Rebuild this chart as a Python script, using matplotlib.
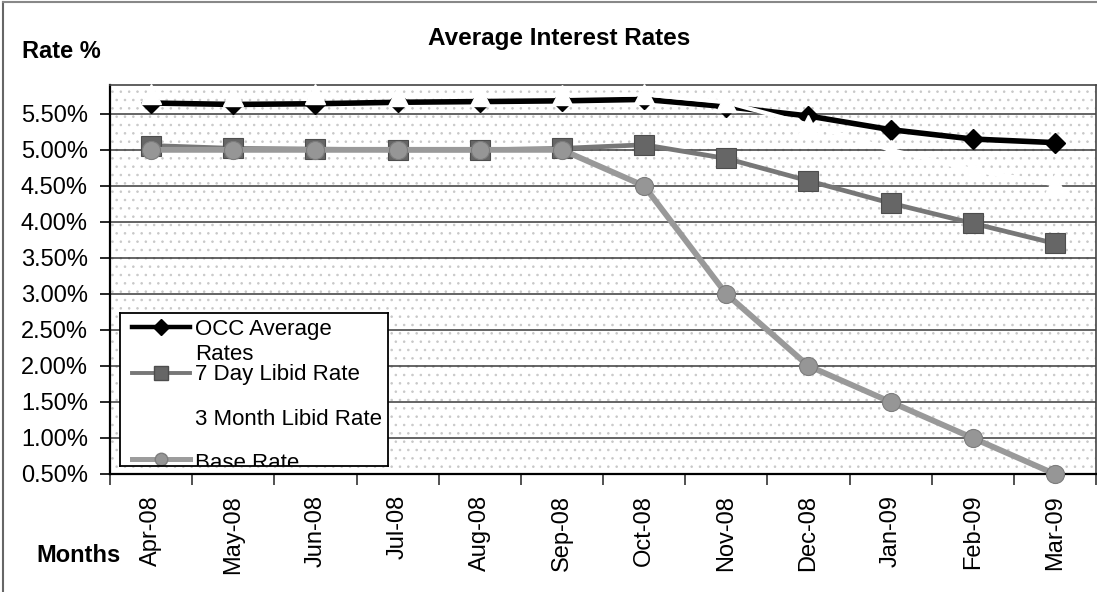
import numpy as np
import matplotlib
matplotlib.use("Agg")
import matplotlib.pyplot as plt
from matplotlib.lines import Line2D
from matplotlib.patches import Rectangle

plt.rcParams['font.family'] = ['Liberation Sans', 'DejaVu Sans']
plt.rcParams['hatch.linewidth'] = 0.6

months = ['Apr-08', 'May-08', 'Jun-08', 'Jul-08', 'Aug-08', 'Sep-08',
          'Oct-08', 'Nov-08', 'Dec-08', 'Jan-09', 'Feb-09', 'Mar-09']
occ_average = [5.65, 5.63, 5.64, 5.66, 5.67, 5.68, 5.70, 5.60, 5.47, 5.28, 5.15, 5.10]
libid_7day = [5.06, 5.02, 5.01, 5.00, 5.00, 5.02, 5.07, 4.88, 4.57, 4.26, 3.98, 3.70]
libid_3month = [5.77, 5.75, 5.77, 5.75, 5.75, 5.76, 5.77, 5.66, 5.35, 5.00, 4.72, 4.52]
base_rate = [5.00, 5.00, 5.00, 5.00, 5.00, 5.00, 4.50, 3.00, 2.00, 1.50, 1.00, 0.50]
y_ticks = [0.5, 1.0, 1.5, 2.0, 2.5, 3.0, 3.5, 4.0, 4.5, 5.0, 5.5]

W, H = 1097, 592
fig = plt.figure(figsize=(W / 100, H / 100), dpi=100)


def frac(x0, y0, x1, y1):
    """Pixel box (top-left origin) -> figure-fraction rect."""
    return [x0 / W, 1 - y1 / H, (x1 - x0) / W, (y1 - y0) / H]


ax = fig.add_axes(frac(110, 85, 1096, 474))
ax.patch.set_facecolor('white')
# stippled plot-area fill
ax.add_patch(Rectangle((0, 0), 1, 1, transform=ax.transAxes, facecolor='white',
                       edgecolor='#c8c8c8', hatch='..', lw=0, zorder=0))

x = np.arange(len(months))

common = dict(clip_on=False)
ax.plot(x, occ_average, color='black', lw=4, marker='D', ms=10.5,
        mfc='black', mec='black', zorder=3, **common)
ax.plot(x, libid_7day, color='#777777', lw=3.4, marker='s', ms=14,
        mfc='#666666', mec='#4d4d4d', mew=0.8, zorder=4, **common)
ax.plot(x, libid_3month, color='white', lw=3, marker='^', ms=15,
        mfc='white', mec='white', zorder=5, **common)
ax.plot(x, base_rate, color='#999999', lw=4.2, marker='o', ms=13,
        mfc='#969696', mec='#7d7d7d', mew=0.8, zorder=6, **common)

ax.set_xlim(-0.5, len(months) - 0.5)
ax.set_ylim(0.5, 5.9)

ax.set_yticks(y_ticks)
ax.set_yticklabels([f'{v:.2f}%' for v in y_ticks], fontsize=17)
ax.tick_params(axis='y', length=7, width=1.2, pad=9, color='black')

ax.set_xticks(x)
ax.set_xticklabels(months, rotation=90, fontsize=17, va='top', ha='center')
ax.set_xticks(np.arange(-0.5, len(months)), minor=True)
ax.tick_params(axis='x', which='major', length=0, pad=15)
ax.tick_params(axis='x', which='minor', length=8, width=1.2, color='#333333')

ax.yaxis.grid(True, color='#3a3a3a', lw=1.1, zorder=1)
ax.set_axisbelow(True)
for side, sp in ax.spines.items():
    sp.set_color('black' if side in ('left', 'bottom') else '#444444')
    sp.set_linewidth(1.6 if side in ('left', 'bottom') else 1.2)
    sp.set_zorder(2)

fig.text(559 / W, 1 - 39 / H, 'Average Interest Rates', ha='center', va='center',
         fontsize=17.5, fontweight='bold')
fig.text(61 / W, 1 - 51 / H, 'Rate %', ha='center', va='center',
         fontsize=17, fontweight='bold')
fig.text(79 / W, 1 - 556 / H, 'Months', ha='center', va='center',
         fontsize=17, fontweight='bold')

# Legend drawn as a small boxed panel so its last row is cut by the frame
lg = fig.add_axes(frac(120, 313, 388, 466), zorder=10)
lg.set_xlim(0, 268)
lg.set_ylim(153, 0)
lg.set_xticks([])
lg.set_yticks([])
lg.patch.set_facecolor('white')
for sp in lg.spines.values():
    sp.set_color('black')
    sp.set_linewidth(1.3)

legend_rows = [
    (14, 22, 'OCC Average\nRates', dict(color='black', lw=3.2),
     dict(marker='D', ms=8, mfc='black', mec='black')),
    (60, 67, '7 Day Libid Rate', dict(color='#777777', lw=2.8),
     dict(marker='s', ms=10, mfc='#666666', mec='#4d4d4d')),
    (105, 112, '3 Month Libid Rate', dict(color='white', lw=2.5),
     dict(marker='^', ms=10, mfc='white', mec='white')),
    (146, 156, 'Base Rate', dict(color='#9c9c9c', lw=3.6),
     dict(marker='o', ms=9, mfc='#969696', mec='#7d7d7d')),
]
for y_line, y_text, label, line_style, marker_style in legend_rows:
    lg.add_line(Line2D([12, 70], [y_line, y_line], **line_style))
    lg.add_line(Line2D([41], [y_line], linestyle='none', **marker_style))
    for i, part in enumerate(label.split('\n')):
        lg.text(75, y_text + 25 * i, part, fontsize=16, va='baseline', ha='left',
                clip_on=True)

# Outer chart frame (left and top edges)
fig.add_artist(Line2D([3 / W, 3 / W], [0, 1 - 2 / H], transform=fig.transFigure,
                      color='#666666', lw=1.5))
fig.add_artist(Line2D([3 / W, 1], [1 - 2 / H, 1 - 2 / H], transform=fig.transFigure,
                      color='#888888', lw=1.5))

fig.savefig('out.png', dpi=100)
